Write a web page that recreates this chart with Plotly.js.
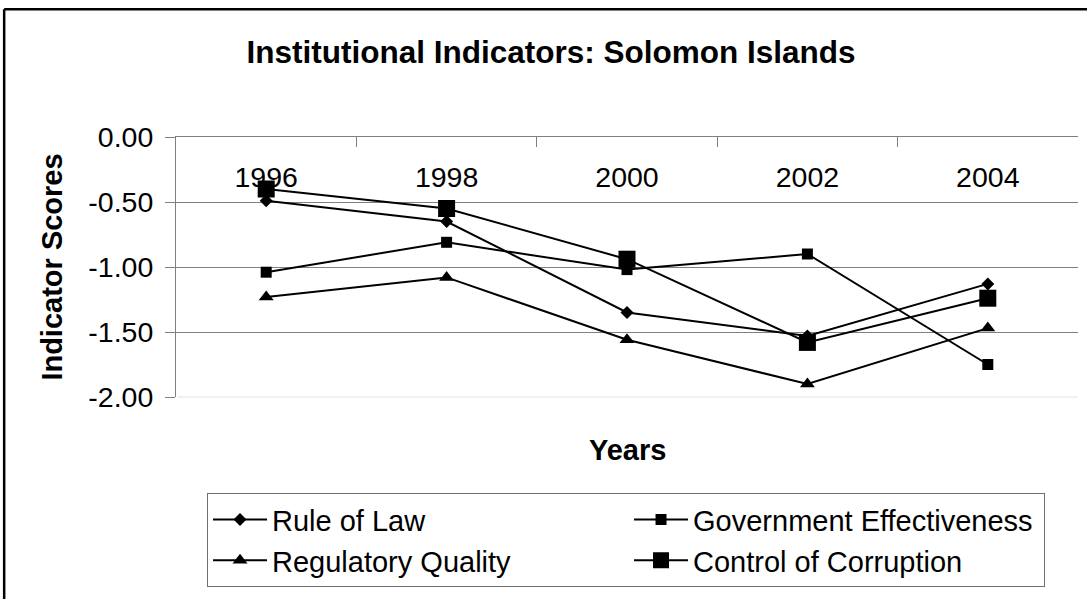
<!DOCTYPE html>
<html>
<head>
<meta charset="utf-8">
<script src="https://cdn.plot.ly/plotly-3.0.1.min.js"></script>
<style>html,body{margin:0;padding:0;background:#fff;}#chart{width:1087px;height:599px;}</style>
</head>
<body>
<div id="chart"></div>
<script>
const years = ['1996', '1998', '2000', '2002', '2004'];
const ruleOfLaw = [-0.49, -0.65, -1.35, -1.53, -1.13];
const govEffectiveness = [-1.04, -0.81, -1.02, -0.90, -1.75];
const regulatoryQuality = [-1.23, -1.08, -1.56, -1.90, -1.47];
const controlOfCorruption = [-0.40, -0.55, -0.94, -1.58, -1.24];
const yTicks = [-2, -1.5, -1, -0.5, 0];
const yTickText = yTicks.map(v => v.toFixed(2));

const FONT = 'Liberation Sans, Arial, sans-serif';
const line = {color: '#000', width: 2};

const traces = [
  {name: 'Rule of Law', x: years, y: ruleOfLaw, mode: 'lines+markers', line: line, legendwidth: 352,
   marker: {symbol: 'diamond', size: 10, color: '#000'}},
  {name: 'Government Effectiveness', x: years, y: govEffectiveness, mode: 'lines+markers', line: line, legendwidth: 346,
   marker: {symbol: 'square', size: 11, color: '#000'}},
  {name: 'Regulatory Quality', x: years, y: regulatoryQuality, mode: 'lines+markers', line: line, legendwidth: 352,
   marker: {symbol: 'triangle-up', size: 13, color: '#000'}},
  {name: 'Control of Corruption', x: years, y: controlOfCorruption, mode: 'lines+markers', line: line, legendwidth: 346,
   marker: {symbol: 'square', size: 17, color: '#000'}}
];

const layout = {
  width: 1087, height: 599,
  margin: {l: 176, r: 9, t: 137, b: 202},
  paper_bgcolor: '#fff', plot_bgcolor: '#fff',
  font: {family: FONT, color: '#000', size: 28.5},
  showlegend: true,
  title: {text: 'Institutional Indicators: Solomon Islands', x: 0.507, xanchor: 'center',
          y: 0.913, yanchor: 'middle', font: {family: FONT, size: 31.5, weight: 'bold', color: '#000'}},
  xaxis: {type: 'category', side: 'top', range: [-0.5, 4.5],
          ticks: 'inside', tickson: 'boundaries', ticklen: 10, tickcolor: '#808080', tickwidth: 1,
          ticklabelposition: 'outside', ticklabelstandoff: -62,
          showline: true, linecolor: '#808080', linewidth: 1, showgrid: false, zeroline: false,
          tickfont: {family: FONT, size: 28.5, color: '#000'}},
  yaxis: {range: [-2, 0], tickvals: yTicks, ticktext: yTickText,
          ticks: 'outside', ticklen: 10, tickcolor: '#808080', tickwidth: 1, ticklabelstandoff: 6,
          showline: true, linecolor: '#808080', linewidth: 1,
          showgrid: true, gridcolor: '#808080', gridwidth: 1, zeroline: false,
          tickfont: {family: FONT, size: 28.5, color: '#000'},
          title: {text: 'Indicator Scores', standoff: 17, font: {family: FONT, size: 29, weight: 'bold', color: '#000'}}},
  legend: {orientation: 'h', x: 0.0344, xanchor: 'left', y: -0.37, yanchor: 'top',
           bgcolor: '#fff', bordercolor: '#707070', borderwidth: 1,
           itemwidth: 54, traceorder: 'normal',
           font: {family: FONT, size: 29, color: '#000'}},
  annotations: [{text: 'Years', xref: 'paper', yref: 'paper', x: 0.5, y: -0.205,
                 xanchor: 'center', yanchor: 'middle', showarrow: false,
                 font: {family: FONT, size: 29, weight: 'bold', color: '#000'}}],
  shapes: [
    {type: 'line', xref: 'x domain', yref: 'y domain', x0: 0.002, x1: 1, y0: 0, y1: 0,
     line: {color: '#ececec', width: 1.5}},
    {type: 'line', xref: 'paper', yref: 'paper', x0: -0.1905, x1: 1.2, y0: 1.491, y1: 1.491,
     line: {color: '#000', width: 2.5}},
    {type: 'line', xref: 'paper', yref: 'paper', x0: -0.1905, x1: -0.1905, y0: 1.491, y1: -1.0,
     line: {color: '#000', width: 2.5}}
  ]
};

Plotly.newPlot('chart', traces, layout, {displayModeBar: false, staticPlot: true});
</script>
</body>
</html>
